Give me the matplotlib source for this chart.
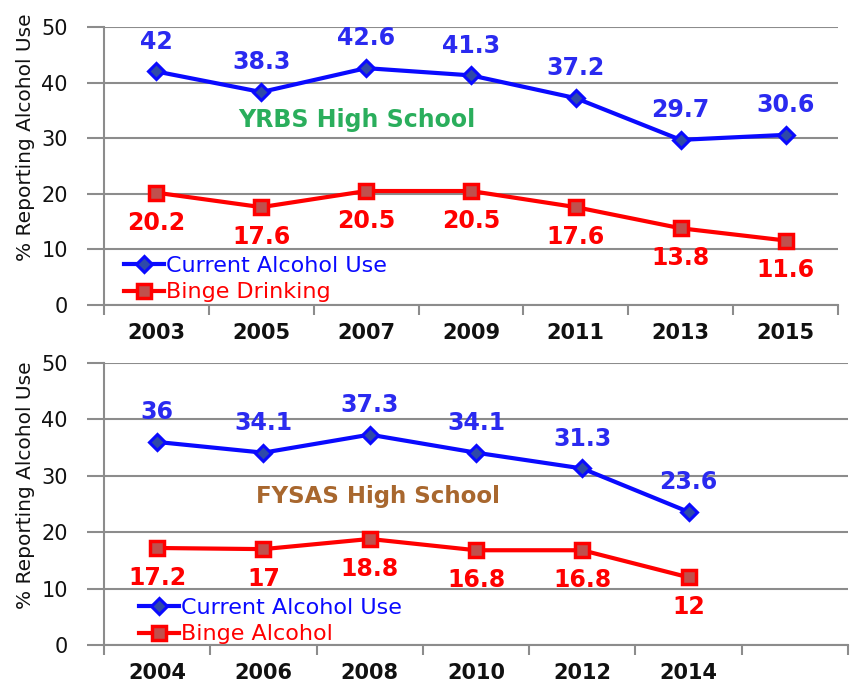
import matplotlib
matplotlib.use("Agg")
import matplotlib.pyplot as plt

# YRBS high school survey
yrbs_years = ["2003", "2005", "2007", "2009", "2011", "2013", "2015"]
yrbs_current = [42, 38.3, 42.6, 41.3, 37.2, 29.7, 30.6]
yrbs_binge = [20.2, 17.6, 20.5, 20.5, 17.6, 13.8, 11.6]

# FYSAS high school survey (one empty slot at the end)
fysas_years = ["2004", "2006", "2008", "2010", "2012", "2014"]
fysas_current = [36, 34.1, 37.3, 34.1, 31.3, 23.6]
fysas_binge = [17.2, 17, 18.8, 16.8, 16.8, 12]
n_slots = 7

BLUE = "#0a0aff"
BLUE_LBL = "#2a2af0"
BLUE_FILL = "#2f4aa8"
RED = "#ff0000"
RED_FILL = "#c0504d"
GRID = "#8c8c8c"

plt.rcParams["font.family"] = "DejaVu Sans"

fig = plt.figure(figsize=(8.51, 6.85), dpi=100)


def draw_panel(ax, years, current, binge, title, title_color, binge_name,
               title_xy, title_size, legend_xy):
    x = list(range(len(years)))
    ax.plot(x, current, color=BLUE, lw=3, marker="D", ms=8.5,
            mfc=BLUE_FILL, mec=BLUE, mew=2.2, label="Current Alcohol Use", zorder=3)
    ax.plot(x, binge, color=RED, lw=3, marker="s", ms=10.5,
            mfc=RED_FILL, mec=RED, mew=2.5, label=binge_name, zorder=3)

    for xi, v in zip(x, current):
        ax.annotate(f"{v:g}", (xi, v), xytext=(0, 21.5), textcoords="offset points",
                    ha="center", va="center", color=BLUE_LBL, fontsize=17,
                    fontweight="bold")
    for xi, v in zip(x, binge):
        ax.annotate(f"{v:g}", (xi, v), xytext=(0, -21.5), textcoords="offset points",
                    ha="center", va="center", color=RED, fontsize=17,
                    fontweight="bold")

    ax.set_xlim(-0.5, n_slots - 0.5)
    ax.set_ylim(0, 50)
    ax.set_yticks(range(0, 51, 10))
    ax.set_xticks(x)
    ax.set_xticklabels(years, fontsize=15, fontweight="bold", color="#111111")
    ax.set_xticks([i - 0.5 for i in range(n_slots + 1)], minor=True)
    ax.tick_params(axis="x", which="major", length=0, pad=13)
    ax.tick_params(axis="x", which="minor", length=7, width=1.5, color=GRID)
    ax.tick_params(axis="y", length=12, width=1.5, color=GRID, pad=14,
                   labelsize=15, labelcolor="#111111")
    ax.grid(axis="y", color=GRID, lw=1.5)
    ax.set_axisbelow(True)
    for s in ("top", "right"):
        ax.spines[s].set_visible(False)
    for s in ("left", "bottom"):
        ax.spines[s].set_color(GRID)
        ax.spines[s].set_linewidth(1.5)

    fig.text(title_xy[0], title_xy[1], title, color=title_color, fontsize=title_size,
             fontweight="bold", ha="center", va="center")

    leg = ax.legend(loc="center left", bbox_to_anchor=legend_xy,
                    bbox_transform=fig.transFigure, frameon=False, fontsize=16,
                    handlelength=1.8, handletextpad=0.1, borderpad=0,
                    borderaxespad=0, labelspacing=0.3, labelcolor="linecolor")
    return leg


ax1 = fig.add_axes([104 / 851, 1 - 305 / 685, (838 - 104) / 851, 278 / 685])
draw_panel(ax1, yrbs_years, yrbs_current, yrbs_binge, "YRBS High School",
           "#2aae5c", "Binge Drinking", (357 / 851, 1 - 120 / 685), 17,
           (124 / 851, 1 - 279 / 685))

ax2 = fig.add_axes([104 / 851, 1 - 645 / 685, (848 - 104) / 851, 282 / 685])
draw_panel(ax2, fysas_years, fysas_current, fysas_binge, "FYSAS High School",
           "#a8672e", "Binge Alcohol", (378 / 851, 1 - 497 / 685), 16.5,
           (139 / 851, 1 - 621 / 685))

fig.text(26 / 851, 1 - 137 / 685, "% Reporting Alcohol Use", rotation=90,
         ha="center", va="center", fontsize=14.5, color="#111111")
fig.text(26 / 851, 1 - 485 / 685, "% Reporting Alcohol Use", rotation=90,
         ha="center", va="center", fontsize=14.5, color="#111111")

fig.savefig("out.png", dpi=100)
